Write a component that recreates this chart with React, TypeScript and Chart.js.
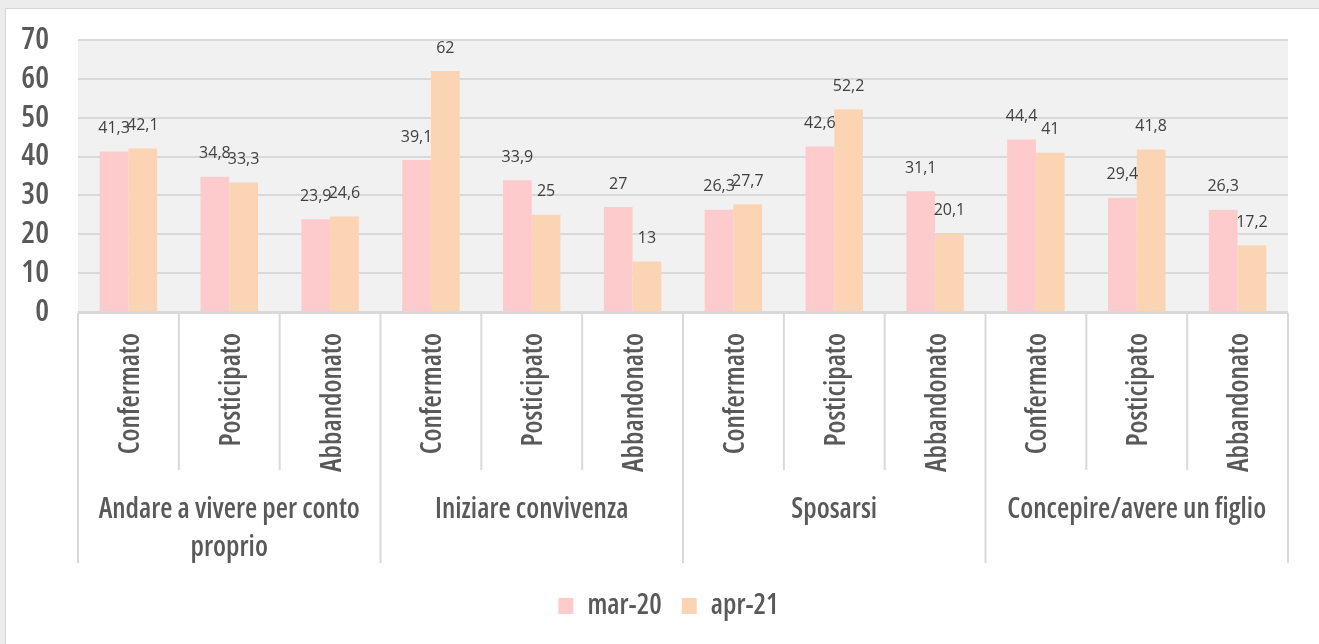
import React, { useEffect, useRef } from "react";
import { Chart, registerables } from "chart.js";

Chart.register(...registerables);

const subCategories = [
  "Confermato", "Posticipato", "Abbandonato",
  "Confermato", "Posticipato", "Abbandonato",
  "Confermato", "Posticipato", "Abbandonato",
  "Confermato", "Posticipato", "Abbandonato",
];
const groupLabels = [
  ["Andare a vivere per conto", "proprio"],
  ["Iniziare convivenza"],
  ["Sposarsi"],
  ["Concepire/avere un figlio"],
];
const groupSize = 3;
const seriesNames = ["mar-20", "apr-21"];
const mar20 = [41.3, 34.8, 23.9, 39.1, 33.9, 27, 26.3, 42.6, 31.1, 44.4, 29.4, 26.3];
const apr21 = [42.1, 33.3, 24.6, 62, 25, 13, 27.7, 52.2, 20.1, 41, 41.8, 17.2];
const yTicks = [0, 10, 20, 30, 40, 50, 60, 70];

const FAMILY = '"Open Sans", sans-serif';
const CW = "600 condensed";
const TEXT = "#595959";
const LINE = "#d9d9d9";

const chartDecor = {
  id: "chartDecor",
  beforeDraw(chart: any) {
    const { ctx, chartArea } = chart;
    ctx.save();
    ctx.fillStyle = "#f1f1f1";
    ctx.fillRect(chartArea.left, chartArea.top, chartArea.right - chartArea.left, chartArea.bottom - chartArea.top);
    ctx.restore();
  },
  afterDraw(chart: any) {
    const { ctx, chartArea } = chart;
    const xs = chart.scales.x;
    const n = subCategories.length;
    const step = (chartArea.right - chartArea.left) / n;
    const top = chartArea.bottom + 1;
    ctx.save();
    ctx.strokeStyle = LINE;
    ctx.lineWidth = 2;
    ctx.beginPath();
    ctx.moveTo(chartArea.left, top);
    ctx.lineTo(chartArea.right, top);
    for (let i = 0; i <= n; i++) {
      const x = i < n ? xs.getPixelForValue(i) - step / 2 : xs.getPixelForValue(n - 1) + step / 2;
      const isGroup = i % groupSize === 0;
      ctx.moveTo(x, top);
      ctx.lineTo(x, isGroup ? 563 : 470);
    }
    ctx.stroke();
    ctx.fillStyle = TEXT;
    ctx.font = `${CW} 28px ${FAMILY}`;
    (ctx as any).fontStretch = "condensed";
    ctx.textAlign = "center";
    ctx.textBaseline = "middle";
    groupLabels.forEach((lines, g) => {
      const x0 = xs.getPixelForValue(g * groupSize) - step / 2;
      const x1 = xs.getPixelForValue(g * groupSize + groupSize - 1) + step / 2;
      lines.forEach((t, k) => ctx.fillText(t, (x0 + x1) / 2, 510 + k * 38));
    });
    ctx.restore();
  },
  afterDatasetsDraw(chart: any) {
    const { ctx } = chart;
    ctx.save();
    ctx.fillStyle = "#404040";
    ctx.font = '16px "Open Sans", sans-serif';
    (ctx as any).fontStretch = "normal";
    ctx.textAlign = "center";
    ctx.textBaseline = "middle";
    chart.data.datasets.forEach((ds: any, di: number) => {
      const meta = chart.getDatasetMeta(di);
      meta.data.forEach((el: any, i: number) => {
        const v = ds.data[i];
        ctx.fillText(String(v).replace(".", ","), el.x, el.y - 23);
      });
    });
    ctx.restore();
  },
};

export default function App() {
  const ref = useRef<HTMLCanvasElement | null>(null);
  useEffect(() => {
    document.body.style.margin = "0";
    const chart = new Chart(ref.current!, {
      type: "bar",
      data: {
        labels: subCategories,
        datasets: [
          { label: seriesNames[0], data: mar20, backgroundColor: "#fdcbcb", borderWidth: 0 },
          { label: seriesNames[1], data: apr21, backgroundColor: "#fbd4b4", borderWidth: 0 },
        ],
      },
      options: {
        animation: false,
        responsive: false,
        maintainAspectRatio: false,
        layout: { padding: { left: 18, top: 40, right: 0, bottom: 14 } },
        datasets: { bar: { categoryPercentage: 0.57, barPercentage: 1.0 } },
        plugins: {
          tooltip: { enabled: false },
          legend: {
            position: "bottom",
            labels: {
              color: TEXT,
              font: { family: FAMILY, size: 28, weight: CW },
              boxWidth: 15,
              boxHeight: 16,
              padding: 20,
            },
          },
        },
        scales: {
          x: {
            type: "category",
            grid: { display: false, drawTicks: false },
            border: { display: false },
            ticks: {
              color: TEXT,
              font: { family: FAMILY, size: 28, weight: CW },
              minRotation: 90,
              maxRotation: 90,
              autoSkip: false,
              padding: 21,
              labelOffset: 2.5,
            },
            afterFit(scale: any) {
              scale.height = 260;
              scale.paddingLeft = 0;
              scale.paddingRight = 31;
              scale.paddingTop = 0;
              scale.paddingBottom = 0;
            },
          },
          y: {
            min: 0,
            max: 70,
            afterBuildTicks(scale: any) {
              scale.ticks = yTicks.map((v) => ({ value: v }));
            },
            grid: { color: LINE, lineWidth: 2, drawTicks: false },
            border: { display: false },
            ticks: {
              color: TEXT,
              font: { family: FAMILY, size: 31, weight: CW },
              autoSkip: false,
              padding: 29,
            },
            afterFit(scale: any) {
              scale.width = 60;
              scale.paddingTop = 0;
              scale.paddingBottom = 0;
              scale.paddingLeft = 0;
              scale.paddingRight = 0;
            },
          },
        },
      },
      plugins: [chartDecor],
    });
    return () => chart.destroy();
  }, []);
  return (
    <div style={{ position: "relative", width: 1319, height: 644, background: "#ececec", overflow: "hidden" }}>
      <div
        style={{
          position: "absolute",
          left: 5,
          top: 8,
          width: 1330,
          height: 660,
          background: "#ffffff",
          border: "1px solid #d4d4d4",
        }}
      />
      <canvas ref={ref} width={1319} height={644} style={{ position: "absolute", left: 0, top: 0 }} />
    </div>
  );
}
